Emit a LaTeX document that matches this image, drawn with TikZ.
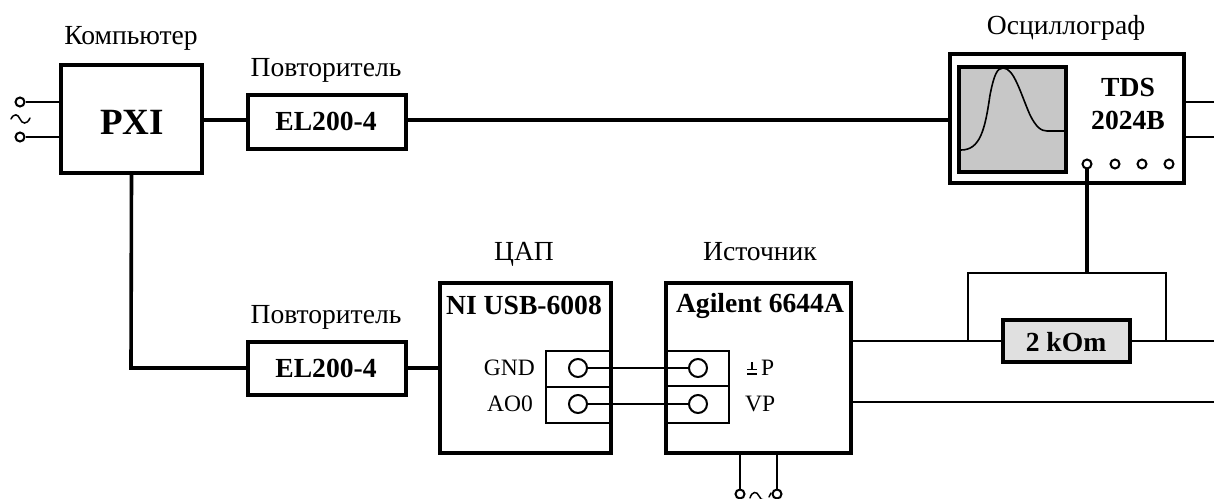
\documentclass[tikz,border=0pt]{standalone}
\usepackage{fontspec}
\setmainfont{Liberation Serif}
\tikzset{
  x=1pt,y=-1pt,
  box/.style={draw=black,line width=4pt,fill=white,inner sep=0pt,rectangle},
  thick wire/.style={line width=3.6pt},
  thin wire/.style={line width=1.6pt},
  term/.style={circle,draw=black,line width=2pt,fill=white,inner sep=0pt,minimum size=#1},
  term/.default=9pt,
  captxt/.style={font=\fontsize{27.6}{30}\selectfont,inner sep=0pt,anchor=base},
  lbl/.style={font=\fontsize{27.6}{30}\selectfont\bfseries,inner sep=0pt,anchor=base},
  pin/.style={font=\fontsize{23.5}{26}\selectfont,inner sep=0pt},
  acsym/.style={line width=1.5pt,line cap=round},
}
\begin{document}
\begin{tikzpicture}
\useasboundingbox (0,0) rectangle (1214,498);
\clip (0,0) rectangle (1214,498);
\coordinate (outA) at (1214,102);
\coordinate (outB) at (1214,137);
\coordinate (outC) at (1214,341);
\coordinate (outD) at (1214,402);
\coordinate (bend) at (131,368);
\coordinate (loopL) at (968,273);
\coordinate (loopR) at (1166,273);
\coordinate (loopM) at (1087,273);
\coordinate (tapL) at (968,341);
\coordinate (tapR) at (1166,341);
\node[box,minimum width=141pt,minimum height=108pt] (pxi) at (131.5,119) {};
\node[box,minimum width=158pt,minimum height=54pt] (elA) at (327,122) {};
\node[box,minimum width=158pt,minimum height=53pt] (elB) at (327,368.5) {};
\node[box,minimum width=234pt,minimum height=129pt] (osc) at (1067,118.5) {};
\node[box,fill=black!22,minimum width=107pt,minimum height=105pt] (scr) at (1012.5,119.5) {};
\node[box,minimum width=171pt,minimum height=170pt] (ni) at (525.5,368) {};
\node[box,minimum width=185pt,minimum height=170pt] (ag) at (758.5,368) {};
\node[box,fill=black!12,minimum width=127pt,minimum height=42pt] (res) at (1066.5,341) {};
% terminal blocks
\draw[thin wire] (612,351) -| (546,423) -- (612,423) (546,387) -- (612,387);
\draw[thin wire] (666,351) -| (729,423) -- (666,423) (666,386) -- (729,386);
\draw[thin wire] (578,368) -- (698,368);
\draw[thin wire] (578,404) -- (698,404);
\node[term=18pt] (niG) at (578,368) {};
\node[term=18pt] (niA) at (578,404) {};
\node[term=18pt] (agG) at (698,368) {};
\node[term=18pt] (agA) at (698,404) {};
% connections
\draw[thick wire] (pxi.east |- 0,120) -- (elA.west |- 0,120);
\draw[thick wire] (elA.east |- 0,120) -- (osc.west |- 0,120);
\draw[thick wire,line join=miter] (pxi.south) -- (bend) -- (elB.west |- bend);
\draw[thick wire] (elB.east |- bend) -- (ni.west |- bend);
\node[term] (acAo) at (20,102) {};
\node[term] (acBo) at (20,137) {};
\draw[thin wire] (acAo) -- (pxi.west |- acAo);
\draw[thin wire] (acBo) -- (pxi.west |- acBo);
\draw[acsym] (11,119) .. controls (14,113) and (18,114) .. (20,119) .. controls (22,124) and (27,125) .. (30,118);
% scope trace
\draw[line width=1.6pt] (961,150) .. controls (980,150) and (985,130) .. (990,95)
  .. controls (994,75) and (997,68) .. (1003,68)
  .. controls (1014,68) and (1020,92) .. (1030,115)
  .. controls (1036,127) and (1041,131) .. (1047,131) -- (1065,131);
\draw[thick wire] (1087,164) -- (loopM);
\node[term] (chA) at (1087,164) {};
\node[term] (chB) at (1115,164) {};
\node[term] (chC) at (1142,164) {};
\node[term] (chD) at (1169,164) {};
\draw[thin wire] (osc.east |- outA) -- (outA);
\draw[thin wire] (osc.east |- outB) -- (outB);
% resistor
\draw[thin wire] (ag.east |- outC) -- (res.west |- outC);
\draw[thin wire] (res.east |- outC) -- (outC);
\draw[thin wire] (ag.east |- outD) -- (outD);
\draw[thin wire] (tapL) -- (loopL) -- (loopR) -- (tapR);
% supply
\node[term] (sA) at (740,494) {};
\node[term] (sB) at (777,494) {};
\draw[thin wire] (740,453) -- (sA);
\draw[thin wire] (777,453) -- (sB);
\draw[acsym] (750,498) .. controls (752,491) and (757,491) .. (759,496) .. controls (760,499) and (762,500) .. (764,500);
\draw[acsym] (769,497) -- (771,493);
% texts
\node[captxt] at (131,44) {Компьютер};
\node[captxt] at (326,76) {Повторитель};
\node[captxt] at (326,323) {Повторитель};
\node[captxt] at (1066,34) {Осциллограф};
\node[captxt] at (524,260) {ЦАП};
\node[captxt] at (760,260) {Источник};
\node[font=\fontsize{37}{40}\selectfont\bfseries,inner sep=0pt,anchor=base] at (132,134) {PXI};
\node[lbl] at (326,130.5) {EL200-4};
\node[lbl] at (326,377) {EL200-4};
\node[lbl] at (1128,96) {TDS};
\node[lbl] at (1128,129) {2024B};
\node[lbl] at (524,314) {NI USB-6008};
\node[lbl] at (760,312) {Agilent 6644A};
\node[lbl] at (1066,351) {2 kOm};
\node[pin,anchor=base east] at (535,375) {GND};
\node[pin,anchor=base east] at (533,411) {AO0};
\node[pin,anchor=base west] at (761,375) {P};
\node[pin,anchor=base west] at (745,411) {VP};
% ground mark beside the P pin
\draw[line width=1.3pt] (752,362) -- (752,370) (747,369.5) -- (757,369.5);
\draw[line width=1.6pt] (747,374) -- (757,374);
\end{tikzpicture}
\end{document}
